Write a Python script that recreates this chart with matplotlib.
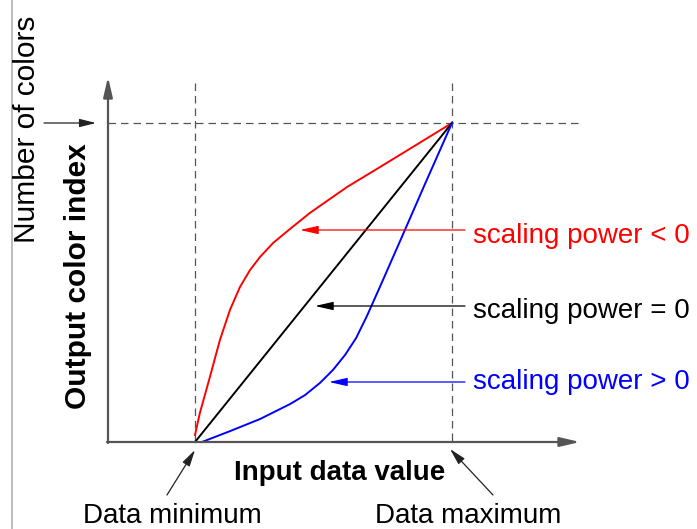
import matplotlib
matplotlib.use('Agg')
import matplotlib.pyplot as plt

plt.rcParams['font.family'] = ['Liberation Sans', 'DejaVu Sans']

# Curvas: entrada normalizada (0 = mínimo, 1 = máximo)
red_x = [0.0, 0.019, 0.058, 0.097, 0.136, 0.175, 0.214, 0.253, 0.304, 0.370,
         0.447, 0.525, 0.591, 0.720, 0.848, 1.0]
red_y = [0.022, 0.091, 0.204, 0.320, 0.414, 0.486, 0.539, 0.580, 0.624, 0.668,
         0.718, 0.762, 0.799, 0.862, 0.925, 1.0]

lin_x = [0.0, 1.0]
lin_y = [0.0, 1.0]

blue_x = [0.027, 0.136, 0.253, 0.370, 0.428, 0.486, 0.537, 0.584, 0.627, 0.669,
          0.720, 0.798, 0.895, 1.0]
blue_y = [0.0, 0.034, 0.072, 0.119, 0.147, 0.185, 0.226, 0.273, 0.326, 0.395,
          0.487, 0.630, 0.809, 1.0]

labels = ['scaling power < 0', 'scaling power = 0', 'scaling power > 0']
colors = ['#ff0000', '#000000', '#0000ff']


def px(x, y):
    """ Pasa una posición en píxeles de la imagen a coordenadas de datos. """
    return (x - 195) / 257.0, (442 - y) / 319.0


fig = plt.figure(figsize=(6.97, 5.29), dpi=100)
ax = fig.add_axes([0, 0, 1, 1])
x0, y0 = px(0, 529)
x1, y1 = px(697, 0)
ax.set_xlim(x0, x1)
ax.set_ylim(y0, y1)
ax.axis('off')

# Borde izquierdo
ax.plot(*zip(px(12, 0), px(12, 529)), color='#b0b0b0', lw=1.2)

# Líneas guía punteadas
dash = dict(color='#555555', lw=0.9, dashes=(6, 4))
ax.plot(*zip(px(195, 83), px(195, 442)), **dash)
ax.plot(*zip(px(452, 83), px(452, 442)), **dash)
ax.plot(*zip(px(108, 123), px(580, 123)), **dash)

# Ejes con flecha
ejes = dict(arrowstyle='-|>,head_length=1.2,head_width=0.28', color='#555555',
            lw=1.6, shrinkA=0, shrinkB=0, mutation_scale=10)
ax.annotate('', xy=px(580, 442), xytext=px(107, 442), arrowprops=ejes)
ax.annotate('', xy=px(108, 77), xytext=px(108, 443), arrowprops=ejes)

# Curvas
ax.plot(red_x, red_y, color=colors[0], lw=1.4, solid_joinstyle='round')
ax.plot(lin_x, lin_y, color=colors[1], lw=1.4)
ax.plot(blue_x, blue_y, color=colors[2], lw=1.4, solid_joinstyle='round')

# Flechas de las etiquetas
flecha = dict(arrowstyle='-|>,head_length=1.1,head_width=0.25', lw=0.9,
              shrinkA=0, shrinkB=0, mutation_scale=10)
for lab, c, tip, yl, base in zip(labels, colors, [300, 315, 329], [230, 306, 382],
                                 [243, 318, 389]):
    ax.annotate('', xy=px(tip, yl), xytext=px(465, yl),
                arrowprops=dict(flecha, color=c))
    ax.text(*px(473, base), lab, color=c, fontsize=20, ha='left', va='baseline')

# Flechas pequeñas
chica = dict(arrowstyle='-|>,head_length=1.0,head_width=0.25', lw=0.9,
             color='#222222', shrinkA=0, shrinkB=0, mutation_scale=10)
ax.annotate('', xy=px(96, 123), xytext=px(44, 123), arrowprops=chica)
ax.annotate('', xy=px(195, 450), xytext=px(167, 495), arrowprops=chica)
ax.annotate('', xy=px(450, 449), xytext=px(493, 495), arrowprops=chica)

# Textos
ax.text(*px(340, 480), 'Input data value', fontsize=20, fontweight='bold',
        ha='center', va='baseline')
ax.text(*px(78, 276), 'Output color index', fontsize=21.5, fontweight='bold',
        rotation=90, ha='center', va='center')
ax.text(*px(27, 129), 'Number of colors', fontsize=21.5, rotation=90,
        ha='center', va='center')
ax.text(*px(172, 523), 'Data minimum', fontsize=20, ha='center', va='baseline')
ax.text(*px(468, 523), 'Data maximum', fontsize=20, ha='center', va='baseline')

fig.savefig('out.png', dpi=100, facecolor='white')
